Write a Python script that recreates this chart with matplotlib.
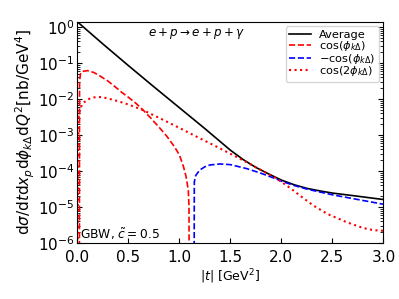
import numpy as np
import matplotlib
matplotlib.use('Agg')
import matplotlib.pyplot as plt

plt.rcParams['mathtext.fontset'] = 'dejavusans'

# values
t_avg = [0, 0.25, 0.5, 0.75, 1.0, 1.25, 1.5, 1.625, 1.75, 1.875, 2.0,
         2.125, 2.25, 2.375, 2.5, 2.75, 3.0]
avg = [1.40, 0.339, 0.0851, 0.0219, 5.75e-3, 1.51e-3, 3.80e-4, 2.09e-4,
       1.26e-4, 8.32e-5, 5.62e-5, 4.17e-5, 3.31e-5, 2.82e-5, 2.45e-5,
       2.0e-5, 1.62e-5]

t_cos = [0, 0.019, 0.021, 0.03, 0.05, 0.1, 0.16, 0.222, 0.3, 0.362, 0.43,
         0.5, 0.575, 0.646, 0.72, 0.8, 0.876, 0.95, 1.0, 1.04, 1.065, 1.087,
         1.094, 1.097]
cos1 = [1e-9, 1e-8, 0.0316, 0.0501, 0.0589, 0.0617, 0.0550, 0.0437, 0.0316,
        0.0229, 0.0158, 0.0112, 7.59e-3, 4.90e-3, 2.95e-3, 1.66e-3, 9.33e-4,
        4.79e-4, 2.82e-4, 1.32e-4, 7.08e-5, 2.95e-5, 1.0e-5, 1e-9]

t_mcos = [1.143, 1.146, 1.16, 1.2, 1.25, 1.3, 1.4, 1.5, 1.66, 1.8, 1.95, 2.0,
          2.125, 2.25, 2.375, 2.5, 2.75, 3.0]
mcos1 = [1e-9, 5.01e-5, 7.59e-5, 1.07e-4, 1.32e-4, 1.48e-4, 1.58e-4, 1.51e-4,
         1.17e-4, 8.71e-5, 6.03e-5, 5.25e-5, 3.98e-5, 3.16e-5, 2.63e-5,
         2.19e-5, 1.62e-5, 1.20e-5]

t_cos2 = [0, 0.004, 0.013, 0.03, 0.053, 0.1, 0.15, 0.2, 0.25, 0.31, 0.4, 0.5,
          0.646, 0.8, 1.0, 1.2, 1.35, 1.5, 1.65, 1.8, 1.95, 2.1, 2.2, 2.31,
          2.45, 2.64, 2.8, 2.9, 3.0]
cos2 = [1e-9, 1e-5, 3.63e-3, 5.62e-3, 7.59e-3, 9.77e-3, 0.0110, 0.0115,
        0.0112, 0.0102, 8.71e-3, 7.08e-3, 4.90e-3, 3.02e-3, 1.58e-3, 8.13e-4,
        5.01e-4, 3.02e-4, 1.82e-4, 1.07e-4, 6.31e-5, 3.16e-5, 1.91e-5,
        1.12e-5, 6.46e-6, 3.80e-6, 2.63e-6, 2.29e-6, 2.19e-6]

fig = plt.figure(figsize=(3.99, 2.99), dpi=100)
ax = fig.add_axes([0.194, 0.187, 0.767, 0.740])

ax.plot(t_avg, avg, 'k-', lw=1.2, label='Average')
ax.plot(t_cos, cos1, 'r--', lw=1.2, label=r'$\cos(\phi_{k\Delta})$')
ax.plot(t_mcos, mcos1, 'b--', lw=1.2, label=r'$-\cos(\phi_{k\Delta})$')
ax.plot(t_cos2, cos2, 'r:', lw=1.5, label=r'$\cos(2\phi_{k\Delta})$')

ax.set_yscale('log')
ax.set_xlim(0, 3)
ax.set_ylim(1e-6, 1.4)
ax.set_xticks([0, 0.5, 1.0, 1.5, 2.0, 2.5, 3.0])
ax.tick_params(axis='both', which='both', direction='in', right=True, labelsize=11)
ax.tick_params(axis='both', which='major', length=3.5)
ax.tick_params(axis='both', which='minor', length=2)
ax.tick_params(axis='y', which='both', pad=2)
ax.tick_params(axis='x', which='both', pad=5)

ax.set_xlabel(r'$|t|$ [GeV$^2$]', fontsize=9, labelpad=1.5)
ax.set_ylabel(r'$\mathrm{d}\sigma/\mathrm{d}t\mathrm{d}x_p\mathrm{d}\phi_{k\Delta}\mathrm{d}Q^2[\mathrm{nb/GeV^4}]$',
              fontsize=11, labelpad=1)

ax.text(0.39, 0.945, r'$e+p\rightarrow e+p+\gamma$', transform=ax.transAxes,
        ha='center', va='center', fontsize=8.6)
ax.text(0.01, 0.04, r'GBW, $\tilde{c}=0.5$', transform=ax.transAxes,
        ha='left', va='center', fontsize=8.8)

ax.legend(loc='upper right', fontsize=8.2, handlelength=1.9, labelspacing=-0.1,
          borderpad=0.3, handletextpad=0.7, borderaxespad=0.4)

fig.savefig('out.png', dpi=100)
